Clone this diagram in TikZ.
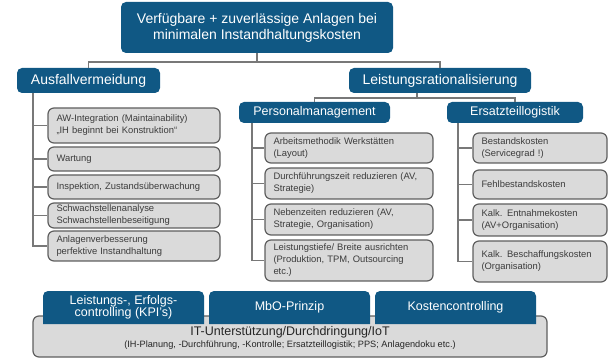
\documentclass[tikz,border=0pt]{standalone}
\usepackage{fontspec}
\setmainfont{Liberation Sans}
\usetikzlibrary{calc}

\definecolor{hdblue}{RGB}{16,88,132}
\definecolor{itemfill}{RGB}{218,218,218}
\definecolor{itemline}{RGB}{95,95,95}
\definecolor{wirecol}{RGB}{120,120,120}
\definecolor{itemtext}{RGB}{60,60,60}

\tikzset{
  head/.style={fill=hdblue, draw=none, rounded corners=5pt, text=white,
    inner sep=0pt, align=center},
  bigfont/.style={font=\fontsize{14}{16}\selectfont},
  midfont/.style={font=\fontsize{12.5}{12}\selectfont},
  item/.style={fill=itemfill, draw=itemline, line width=1.2pt, rounded corners=6pt,
    text=itemtext, inner xsep=8.5pt, inner ysep=0pt, align=left,
    font=\fontsize{9.4}{12}\selectfont},
  wire/.style={draw=wirecol, line width=1.4pt},
  tab/.style={fill=hdblue},
  tabtext/.style={text=white, inner sep=0pt, align=center, font=\fontsize{12.5}{12}\selectfont},
}

\begin{document}
\begin{tikzpicture}[x=1pt, y=-1pt]
\useasboundingbox (0,0) rectangle (608,358);

% --- headers ---------------------------------------------------------
\node[head, bigfont, minimum width=272, minimum height=51] (top) at (257,27.5)
  {Verfügbare + zuverlässige Anlagen bei\\minimalen Instandhaltungskosten};
\node[head, bigfont, minimum width=143, minimum height=25] (aus) at (88.5,80.5)
  {Ausfallvermeidung};
\node[head, bigfont, minimum width=182, minimum height=25] (lr) at (440,80.5)
  {Leistungsrationalisierung};
\node[head, midfont, minimum width=151, minimum height=21] (pm) at (314.5,112.5)
  {Personalmanagement};
\node[head, midfont, minimum width=136, minimum height=21] (et) at (515,112.5)
  {Ersatzteillogistik};

% --- junctions -------------------------------------------------------
\coordinate (j1) at (257,62);
\coordinate (j2) at (417,98);
\coordinate (ja) at (33,93);
\coordinate (jp) at (252,123);
\coordinate (je) at (458,123);

% --- Ausfallvermeidung items -------------------------------------------
\node[item, minimum width=172, minimum height=35, text width=155] (a1) at (134,125.5)
  {AW-Integration (Maintainability)\\„IH beginnt bei Konstruktion“};
\node[item, minimum width=172, minimum height=24, text width=155] (a2) at (134,159)
  {Wartung};
\node[item, minimum width=172, minimum height=24, text width=155] (a3) at (134,187)
  {Inspektion, Zustandsüberwachung};
\node[item, minimum width=172, minimum height=25, text width=155] (a4) at (134,215.5)
  {Schwachstellenanalyse\\Schwachstellenbeseitigung};
\node[item, minimum width=172, minimum height=30, text width=155] (a5) at (134,246)
  {Anlagenverbesserung\\perfektive Instandhaltung};

% --- Personalmanagement items ------------------------------------------
\node[item, minimum width=168, minimum height=30, text width=151] (p1) at (349,148)
  {Arbeitsmethodik Werkstätten\\(Layout)};
\node[item, minimum width=168, minimum height=31, text width=151] (p2) at (349,183.5)
  {Durchführungszeit reduzieren (AV,\\Strategie)};
\node[item, minimum width=168, minimum height=31, text width=151] (p3) at (349,219.5)
  {Nebenzeiten reduzieren (AV,\\Strategie, Organisation)};
\node[item, minimum width=168, minimum height=41, text width=151] (p4) at (349,260.5)
  {Leistungstiefe/ Breite ausrichten\\(Produktion, TPM, Outsourcing\\etc.)};

% --- Ersatzteillogistik items ------------------------------------------
\node[item, minimum width=134, minimum height=30, text width=117] (e1) at (540,148)
  {Bestandskosten\\(Servicegrad !)};
\node[item, minimum width=134, minimum height=29, text width=117] (e2) at (540,184.5)
  {Fehlbestandskosten};
\node[item, minimum width=134, minimum height=32, text width=117] (e3) at (540,220)
  {Kalk. Entnahmekosten\\(AV+Organisation)};
\node[item, minimum width=134, minimum height=41, text width=117] (e4) at (540,261.5)
  {Kalk. Beschaffungskosten\\(Organisation)};

% --- connectors --------------------------------------------------------
\draw[wire] (top.south) -- (j1);
\draw[wire] (j1) -| (aus.north);
\draw[wire] (j1) -| (lr.north);
\draw[wire] (j2 |- lr.south) -- (j2);
\draw[wire] (j2) -| (pm.north);
\draw[wire] (j2) -| (et.north);

\draw[wire] (ja) |- (a5.west);
\foreach \n in {a1,a2,a3,a4} \draw[wire] (ja |- \n.west) -- (\n.west);
\draw[wire] (jp) |- (p4.west);
\foreach \n in {p1,p2,p3} \draw[wire] (jp |- \n.west) -- (\n.west);
\draw[wire] (je) |- (e4.west);
\foreach \n in {e1,e2,e3} \draw[wire] (je |- \n.west) -- (\n.west);

% --- base layer: IT support -----------------------------------------
\node[item, minimum width=514, minimum height=41] (it) at (290,336.5) {};
\node[align=center, text=black!85, inner sep=0pt] (ittext) at (290,337.5)
  {\fontsize{12.5}{13}\selectfont IT-Unterstützung/Durchdringung/IoT\\
   \fontsize{9.2}{10}\selectfont (IH-Planung, -Durchführung, -Kontrolle; Ersatzteillogistik; PPS; Anlagendoku etc.)};

% --- controlling tabs sitting on the base layer (rounded at top only) ---
\fill[tab] (43,324) [rounded corners=5pt] -- (43,291) -- (204,291) [sharp corners] -- (204,324) -- cycle;
\fill[tab] (209,324) [rounded corners=5pt] -- (209,291) -- (370,291) [sharp corners] -- (370,324) -- cycle;
\fill[tab] (375,324) [rounded corners=5pt] -- (375,291) -- (536,291) [sharp corners] -- (536,324) -- cycle;
\node[tabtext] (b1) at (123.5,307) {Leistungs-, Erfolgs-\\controlling (KPI's)};
\node[tabtext] (b2) at (289.5,307.5) {MbO-Prinzip};
\node[tabtext] (b3) at (455.5,307.5) {Kostencontrolling};
\end{tikzpicture}
\end{document}
